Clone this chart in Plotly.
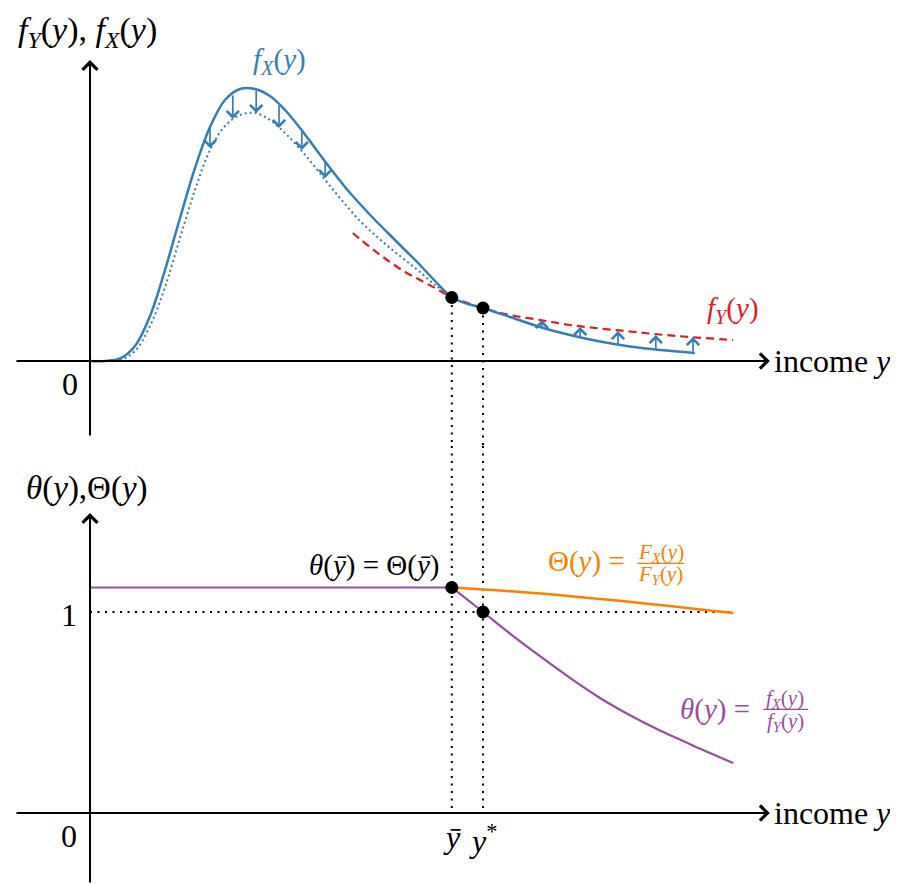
import plotly.graph_objects as go

# ── Data (x: income, 1 unit ≈ 60 px; top: densities, bottom: ratios) ─────────
Y_BAR = 6.03
Y_STAR = 6.55

FX_X = [0, 0.25, 0.5, 0.75, 1.0, 1.25, 1.5, 1.75, 2.0, 2.25, 2.5, 2.75, 3.0,
        3.25, 3.5, 3.75, 4.0, 4.25, 4.5, 4.75, 5.0, 5.25, 5.5, 5.75, 6.03,
        6.25, 6.55, 7.0, 7.5, 8.0, 8.5, 9.0, 9.5, 10.08]
FX_Y = [0, 0, 0.0025, 0.015, 0.045, 0.091, 0.143, 0.193, 0.234, 0.261, 0.272,
        0.272, 0.265, 0.251, 0.233, 0.213, 0.193, 0.174, 0.157, 0.141, 0.126,
        0.111, 0.096, 0.080, 0.0635, 0.058, 0.053, 0.044, 0.034, 0.026,
        0.0195, 0.0145, 0.011, 0.008]

# f_X shifted down below y-bar (dotted)
FXS_X = [0, 0.25, 0.5, 0.75, 1.0, 1.25, 1.5, 1.75, 2.0, 2.25, 2.5, 2.75, 3.0,
         3.25, 3.5, 3.75, 4.0, 4.25, 4.5, 4.75, 5.0, 5.25, 5.5, 5.75, 6.03]
FXS_Y = [0, 0, 0.001, 0.010, 0.035, 0.074, 0.123, 0.171, 0.211, 0.235, 0.246,
         0.248, 0.241, 0.228, 0.212, 0.194, 0.175, 0.157, 0.140, 0.126, 0.113,
         0.101, 0.089, 0.076, 0.0635]

FY_X = [4.38, 4.5, 4.75, 5.0, 5.25, 5.5, 5.75, 6.03, 6.55, 7.0, 7.5, 8.0, 8.5,
        9.0, 9.5, 10.0, 10.72]
FY_Y = [0.128, 0.122, 0.110, 0.099, 0.089, 0.081, 0.073, 0.064, 0.053, 0.046,
        0.041, 0.036, 0.0325, 0.0295, 0.0265, 0.024, 0.021]

DOWN_X = [2.0, 2.38, 2.77, 3.15, 3.53, 3.92]
DOWN_FROM = [0.234, 0.267, 0.272, 0.257, 0.231, 0.201]
DOWN_TO = [0.213, 0.242, 0.248, 0.233, 0.211, 0.183]

UP_X = [7.53, 8.17, 8.8, 9.43, 10.05]
UP_FROM = [0.032, 0.022, 0.015, 0.011, 0.008]
UP_TO = [0.041, 0.034, 0.030, 0.026, 0.024]

THETA_X = [0, 6.03, 6.55, 7.0, 7.5, 8.0, 8.5, 9.0, 9.5, 10.17, 10.72]
THETA_Y = [1.122, 1.122, 1.0, 0.893, 0.780, 0.672, 0.572, 0.486, 0.410,
           0.320, 0.249]

BIG_THETA_X = [6.03, 6.83, 7.67, 8.5, 9.33, 10.17, 10.72]
BIG_THETA_Y = [1.122, 1.107, 1.088, 1.065, 1.040, 1.013, 0.995]

ONE_LINE_X = [0, 10.72]

# ── Style / geometry ──────────────────────────────────────────────────────────
BLUE, RED, PURPLE, ORANGE = "#377eb8", "#e41a1c", "#984ea3", "#ff7f00"
FONT = "Liberation Serif, Times New Roman, serif"
# page body has an 8px margin, so the figure is 890x876 and ranges allow for it
X_RANGE = [-1.3667, 13.4667]
TOP_RANGE = [-0.085, 0.353]
BOT_RANGE = [-0.3532, 1.8259]
AX_X0, AX_X1 = -1.25, 11.33
TOP_AX_Y0, TOP_AX_Y1 = -0.076, 0.301
BOT_AX_Y0, BOT_AX_Y1 = -0.3532, 1.4925
DOTS = dict(color="black", width=2, dash="2px,5.5px")

fig = go.Figure()

# top panel
fig.add_trace(go.Scatter(x=FXS_X, y=FXS_Y, mode="lines", yaxis="y",
                         line=dict(color=BLUE, width=2, dash="2px,3px",
                                   shape="spline", smoothing=1.0)))
fig.add_trace(go.Scatter(x=FY_X, y=FY_Y, mode="lines", yaxis="y",
                         line=dict(color=RED, width=2.2, dash="8px,5px", shape="spline")))
fig.add_trace(go.Scatter(x=FX_X, y=FX_Y, mode="lines", yaxis="y",
                         line=dict(color=BLUE, width=2.5, shape="spline", smoothing=1.0)))
for xv, yv in [(Y_BAR, FX_Y[FX_X.index(Y_BAR)]), (Y_STAR, FX_Y[FX_X.index(Y_STAR)])]:
    fig.add_trace(go.Scatter(x=[xv, xv], y=[yv, TOP_RANGE[0]], mode="lines",
                             yaxis="y", line=DOTS))
    fig.add_trace(go.Scatter(x=[xv, xv], y=[BOT_RANGE[1], 0], mode="lines",
                             yaxis="y2", line=DOTS))

# bottom panel
fig.add_trace(go.Scatter(x=ONE_LINE_X, y=[1, 1], mode="lines", yaxis="y2", line=DOTS))
fig.add_trace(go.Scatter(x=BIG_THETA_X, y=BIG_THETA_Y, mode="lines", yaxis="y2",
                         line=dict(color=ORANGE, width=2.5, shape="spline")))
fig.add_trace(go.Scatter(x=THETA_X[:2], y=THETA_Y[:2], mode="lines", yaxis="y2",
                         line=dict(color=PURPLE, width=2.2)))
fig.add_trace(go.Scatter(x=THETA_X[1:], y=THETA_Y[1:], mode="lines", yaxis="y2",
                         line=dict(color=PURPLE, width=2.2, shape="spline")))

# dots
fig.add_trace(go.Scatter(x=[Y_BAR, Y_STAR], y=[FX_Y[FX_X.index(Y_BAR)], FX_Y[FX_X.index(Y_STAR)]],
                         mode="markers", yaxis="y", marker=dict(color="black", size=13)))
fig.add_trace(go.Scatter(x=[Y_BAR, Y_STAR], y=[THETA_Y[1], 1], mode="markers",
                         yaxis="y2", marker=dict(color="black", size=13)))


def arrow(x0, y0, x1, y1, yref, color="black", width=2, size=1.45):
    return dict(x=x1, y=y1, ax=x0, ay=y0, xref="x", yref=yref, axref="x",
                ayref=yref, text="", showarrow=True, arrowhead=4,
                arrowsize=size, arrowwidth=width, arrowcolor=color, standoff=0)


def label(text, x, y, yref, size=32, color="black", xanchor="center",
          yanchor="middle", **kw):
    return dict(text=text, x=x, y=y, xref="x", yref=yref, showarrow=False,
                xanchor=xanchor, yanchor=yanchor,
                font=dict(family=FONT, size=size, color=color), **kw)


anns = [
    arrow(AX_X0, 0, AX_X1, 0, "y"), arrow(0, TOP_AX_Y0, 0, TOP_AX_Y1, "y"),
    arrow(AX_X0, 0, AX_X1, 0, "y2"), arrow(0, BOT_AX_Y0, 0, BOT_AX_Y1, "y2"),
]
for xv, a, b in zip(DOWN_X, DOWN_FROM, DOWN_TO):
    anns.append(arrow(xv, a, xv, b, "y", BLUE, 1.7, 1.4))
for xv, a, b in zip(UP_X, UP_FROM, UP_TO):
    anns.append(arrow(xv, a, xv, b, "y", BLUE, 1.7, 1.4))

anns += [
    label("<i>f</i><sub><i>Y</i></sub>(<i>y</i>), <i>f</i><sub><i>X</i></sub>(<i>y</i>)",
          -0.04, 0.329, "y", 34),
    label("<i>f</i><sub><i>X</i></sub>(<i>y</i>)", 3.15, 0.300, "y", 29, BLUE),
    label("<i>f</i><sub><i>Y</i></sub>(<i>y</i>)", 10.72, 0.051, "y", 29, RED),
    label("income <i>y</i>", AX_X1, 0, "y", xanchor="left", xshift=2),
    label("0", -0.34, -0.0225, "y"),
    label("<i>θ</i>(<i>y</i>),Θ(<i>y</i>)", -0.05, 1.612, "y2", 33),
    label("1", -0.35, 0.985, "y2"),
    label("0", -0.35, -0.112, "y2"),
    label("income <i>y</i>", AX_X1, 0, "y2", xanchor="left", xshift=2),
    label("<i>ȳ</i>", Y_BAR, 0, "y2", yanchor="top", yshift=-4),
    label("<i>y</i><sup>*</sup>", Y_STAR, 0, "y2", yanchor="top", yshift=-4),
    label("<i>θ</i>(<i>ȳ</i>) = Θ(<i>ȳ</i>)", 4.73, 1.229, "y2", 29),
    label("Θ(<i>y</i>) =", 8.95, 1.249, "y2", 29, ORANGE, xanchor="right"),
    label("<i>F</i><sub><i>X</i></sub>(<i>y</i>)", 9.51, 1.292, "y2", 21, ORANGE),
    label("<i>F</i><sub><i>Y</i></sub>(<i>y</i>)", 9.51, 1.185, "y2", 21, ORANGE),
    label("<i>θ</i>(<i>y</i>) =", 11.03, 0.517, "y2", 29, PURPLE, xanchor="right"),
    label("<i>f</i><sub><i>X</i></sub>(<i>y</i>)", 11.59, 0.568, "y2", 21, PURPLE),
    label("<i>f</i><sub><i>Y</i></sub>(<i>y</i>)", 11.59, 0.453, "y2", 21, PURPLE),
]

shapes = [
    dict(type="line", xref="x", yref="y2", x0=9.12, x1=9.9, y0=1.242, y1=1.242,
         line=dict(color=ORANGE, width=1.2)),
    dict(type="line", xref="x", yref="y2", x0=11.22, x1=11.97, y0=0.516, y1=0.516,
         line=dict(color=PURPLE, width=1.2)),
]

fig.update_layout(
    width=890, height=876,
    margin=dict(l=0, r=0, t=0, b=0, pad=0, autoexpand=False),
    paper_bgcolor="white", plot_bgcolor="white", showlegend=False,
    xaxis=dict(range=X_RANGE, visible=False, domain=[0, 1]),
    yaxis=dict(range=TOP_RANGE, visible=False, domain=[0.5, 1]),
    yaxis2=dict(range=BOT_RANGE, visible=False, domain=[0, 0.5], anchor="x"),
    annotations=anns, shapes=shapes,
)
fig.write_html("out.html")
